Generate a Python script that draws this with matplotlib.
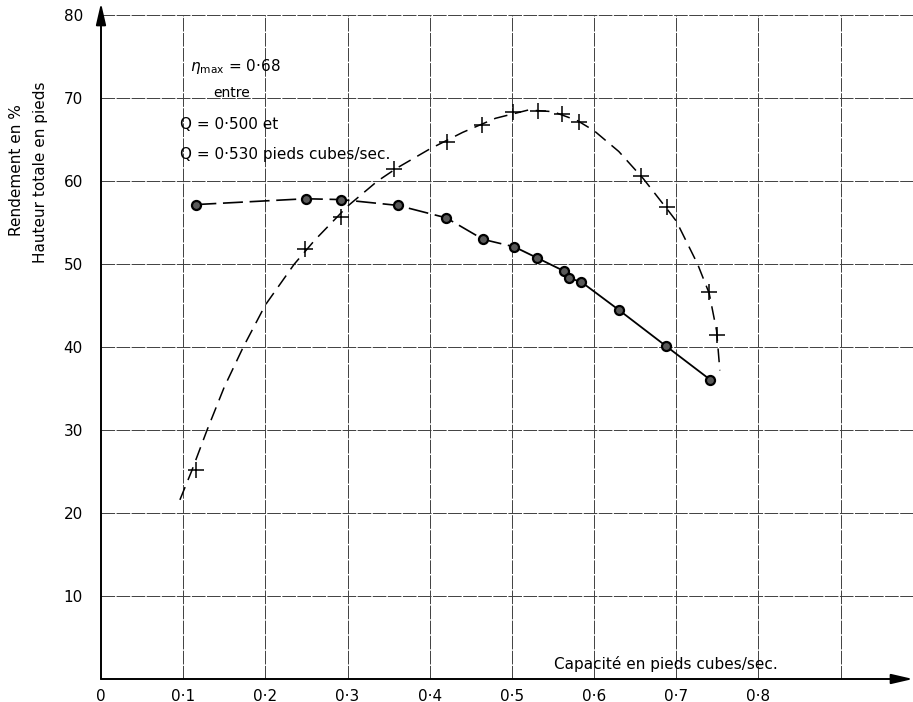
import matplotlib
matplotlib.use("Agg")
import matplotlib.pyplot as plt

# Rendement (%) - croix
q_rend = [0.116, 0.248, 0.292, 0.357, 0.421, 0.463, 0.501, 0.532, 0.561, 0.582, 0.657, 0.689, 0.740, 0.749]
rend = [25.2, 51.9, 55.7, 61.5, 64.8, 66.8, 68.4, 68.5, 68.1, 67.2, 60.6, 56.9, 46.7, 41.5]

# courbe tracée à la main (tirets) pour le rendement
courbe_q = [0.096, 0.11, 0.129, 0.15, 0.173, 0.20, 0.235, 0.26, 0.30, 0.336, 0.36, 0.40, 0.44,
            0.48, 0.52, 0.55, 0.58, 0.60, 0.63, 0.66, 0.69, 0.70, 0.726, 0.74, 0.749, 0.753]
courbe_rend = [21.6, 25.0, 30.0, 35.2, 40.0, 45.1, 50.0, 52.9, 57.0, 60.0, 61.6, 63.9, 65.9,
               67.6, 68.6, 68.4, 67.3, 66.1, 63.6, 60.3, 56.5, 55.2, 50.0, 46.5, 42.0, 37.2]

# Hauteur totale (pieds) - cercles
q_haut = [0.116, 0.249, 0.292, 0.361, 0.420, 0.465, 0.503, 0.530, 0.563, 0.570, 0.584, 0.630, 0.688, 0.741]
haut = [57.2, 57.9, 57.8, 57.1, 55.6, 53.0, 52.1, 50.8, 49.2, 48.3, 47.9, 44.5, 40.1, 36.1]

x_ticks = [0, 0.1, 0.2, 0.3, 0.4, 0.5, 0.6, 0.7, 0.8]
x_labels = ["0", "0·1", "0·2", "0·3", "0·4", "0·5", "0·6", "0·7", "0·8"]
y_ticks = [10, 20, 30, 40, 50, 60, 70, 80]
grille_x = [0.1, 0.2, 0.3, 0.4, 0.5, 0.6, 0.7, 0.8, 0.9]

W, H = 913, 702
fig = plt.figure(figsize=(W / 100, H / 100), dpi=100)
ax = fig.add_axes([101 / W, 23 / H, 812 / W, 676 / H])
xmax, ymax = 0.988, 81.5
ax.set_xlim(0, xmax)
ax.set_ylim(0, ymax)

for s in ax.spines.values():
    s.set_visible(False)

# grille
ax.vlines(grille_x, 0, 80, color="0.25", lw=0.7, linestyle=(0, (14, 1.5)), zorder=1)
ax.hlines(y_ticks, 0, xmax, color="0.25", lw=0.7, linestyle=(0, (14, 1.5)), zorder=1)

# axes avec flèches
fleche = dict(arrowstyle="-|>,head_length=1.3,head_width=0.3", color="black", lw=1.4,
              shrinkA=0, shrinkB=0)
ax.annotate("", xy=(0, ymax), xytext=(0, 0), arrowprops=fleche, annotation_clip=False)
ax.annotate("", xy=(xmax, 0), xytext=(0, 0), arrowprops=fleche, annotation_clip=False)

# courbes
ax.plot(courbe_q, courbe_rend, color="black", lw=1.1, linestyle=(0, (9, 5)), zorder=3)
ax.plot(q_rend, rend, linestyle="none", marker="+", ms=11, mew=1.1, color="black", zorder=4)

ax.plot(q_haut[:7], haut[:7], color="black", lw=1.2, linestyle=(0, (12, 4)), zorder=3)
ax.plot(q_haut[6:], haut[6:], color="black", lw=1.3, zorder=3)
ax.plot(q_haut, haut, linestyle="none", marker="o", ms=6.5, mfc="0.35", mec="black",
        mew=1.6, zorder=4)

# graduations
ax.set_xticks(x_ticks)
ax.set_xticklabels(x_labels, fontsize=11)
ax.set_yticks(y_ticks)
ax.set_yticklabels([str(v) for v in y_ticks], fontsize=11)
ax.tick_params(axis="both", length=0)
ax.tick_params(axis="y", pad=13)
ax.tick_params(axis="x", pad=7)

# textes
ax.text(0.108, 73.8, r"$\eta_{\rm max}$" + " = 0·68", fontsize=11, va="center")
ax.text(0.136, 70.7, "entre", fontsize=10, va="center")
ax.text(0.096, 66.8, "Q = 0·500 et", fontsize=11, va="center")
ax.text(0.096, 63.2, "Q = 0·530 pieds cubes/sec.", fontsize=11, va="center")
ax.text(0.551, 1.8, "Capacité en pieds cubes/sec.", fontsize=11, va="center")

fig.text(17 / W, 1 - 170 / H, "Rendement en %", rotation=90, fontsize=11,
         ha="center", va="center")
fig.text(40 / W, 1 - 172 / H, "Hauteur totale en pieds", rotation=90, fontsize=11,
         ha="center", va="center")

fig.savefig("out.png", dpi=100)
